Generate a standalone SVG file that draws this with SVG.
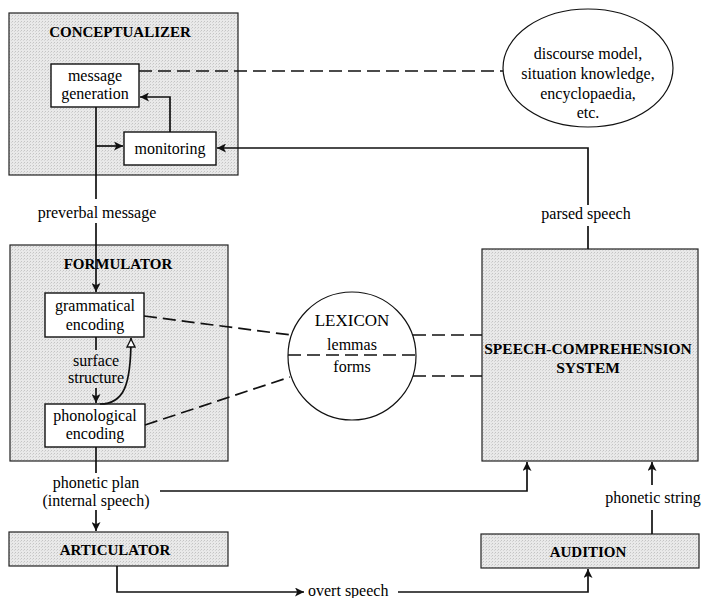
<svg xmlns="http://www.w3.org/2000/svg" width="706" height="598" viewBox="0 0 706 598" font-family="'Liberation Serif', 'DejaVu Serif', serif">
<style>
text{font-family:'Liberation Serif','DejaVu Serif',serif;fill:#000;font-size:16px}
.b{font-weight:bold;font-size:15px}
.c{text-anchor:middle}
.outer{fill:url(#stip);stroke:#222;stroke-width:1.2}
.inner{fill:#fff;stroke:#111;stroke-width:1.4}
.ln{fill:none;stroke:#111;stroke-width:1.7}
.dash{fill:none;stroke:#111;stroke-width:1.7;stroke-dasharray:13 6}
.arr{marker-end:url(#ah)}
</style>
<defs>
<pattern id="stip" width="3" height="3" patternUnits="userSpaceOnUse">
<rect width="3" height="3" fill="#e9e9e9"/>
<rect x="0" y="0" width="1" height="1" fill="#c4c4c4"/>
<rect x="2" y="1" width="1" height="1" fill="#d4d4d4"/>
</pattern>
<marker id="ah" viewBox="0 0 10 10" refX="10" refY="5" markerWidth="9" markerHeight="9" markerUnits="userSpaceOnUse" orient="auto">
<path d="M0,0 L10,5 L0,10 L2.5,5 Z" fill="#111"/>
</marker>
<marker id="ahh" viewBox="0 0 10 10" refX="10" refY="5" markerWidth="10" markerHeight="10" markerUnits="userSpaceOnUse" orient="auto">
<path d="M1,1 L9,5 L1,9 Z" fill="#fff" stroke="#111" stroke-width="1.3"/>
</marker>
</defs>
<rect width="706" height="598" fill="#fff"/>

<g id="conceptualizer">
<rect class="outer" x="9" y="13" width="229" height="162"/>
<text class="b c" x="120" y="37">CONCEPTUALIZER</text>
</g>
<g id="message-generation">
<rect class="inner" x="51" y="64" width="88" height="43"/>
<text class="c" x="95" y="81">message</text>
<text class="c" x="95" y="99">generation</text>
</g>
<g id="monitoring">
<rect class="inner" x="124" y="132" width="92" height="33"/>
<text class="c" x="170" y="154">monitoring</text>
</g>
<g id="knowledge">
<ellipse cx="588" cy="68" rx="85" ry="59" fill="#fff" stroke="#111" stroke-width="1.2"/>
<text class="c" x="588" y="59">discourse model,</text>
<text class="c" x="588" y="79">situation knowledge,</text>
<text class="c" x="588" y="99">encyclopaedia,</text>
<text class="c" x="588" y="118">etc.</text>
</g>

<g id="formulator">
<rect class="outer" x="10" y="245" width="218" height="216"/>
<text class="b c" x="118" y="269">FORMULATOR</text>
</g>
<g id="grammatical-encoding">
<rect class="inner" x="45" y="293" width="99" height="44"/>
<text class="c" x="95" y="311">grammatical</text>
<text class="c" x="95" y="330">encoding</text>
</g>
<g id="phonological-encoding">
<rect class="inner" x="45" y="404" width="100" height="43"/>
<text class="c" x="95" y="421">phonological</text>
<text class="c" x="95" y="439">encoding</text>
</g>
<g id="lexicon">
<circle cx="352" cy="356" r="64" fill="#fff" stroke="#111" stroke-width="1.2"/>
<line class="dash" x1="288" y1="355" x2="416" y2="355"/>
<text class="c" x="352" y="326" style="font-size:17px">LEXICON</text>
<text class="c" x="352" y="350">lemmas</text>
<text class="c" x="352" y="372">forms</text>
</g>
<g id="speech-comprehension">
<rect class="outer" x="482" y="249" width="216" height="212"/>
<text class="b c" x="588" y="354" style="font-size:15.5px">SPEECH-COMPREHENSION</text>
<text class="b c" x="588" y="373" style="font-size:15.5px">SYSTEM</text>
</g>
<g id="articulator">
<rect class="outer" x="9" y="532" width="219" height="34"/>
<text class="b c" x="115" y="555">ARTICULATOR</text>
</g>
<g id="audition">
<rect class="outer" x="481" y="534" width="218" height="34"/>
<text class="b c" x="588" y="557">AUDITION</text>
</g>

<g id="connectors">
<line class="dash" x1="139" y1="71" x2="503" y2="71"/>
<polyline class="ln arr" points="170,132 170,97 140,97"/>
<line class="ln" x1="96" y1="107" x2="96" y2="199"/>
<line class="ln arr" x1="96" y1="146" x2="123" y2="146"/>
<polyline class="ln arr" points="588,205 588,148 217,148"/>
<line class="ln" x1="588" y1="226" x2="588" y2="249"/>
<line class="ln arr" x1="96" y1="223" x2="96" y2="292"/>
<line class="ln" x1="96" y1="337" x2="96" y2="350"/>
<line class="ln arr" x1="96" y1="388" x2="96" y2="403"/>
<path class="ln" d="M100,404 C124,404 131,385 131,338" marker-end="url(#ahh)"/>
<line class="dash" x1="144" y1="316" x2="291" y2="335"/>
<line class="dash" x1="145" y1="425" x2="290" y2="377"/>
<line class="dash" x1="413" y1="335" x2="482" y2="335"/>
<line class="dash" x1="413" y1="376" x2="482" y2="376"/>
<line class="ln" x1="96" y1="447" x2="96" y2="473"/>
<line class="ln arr" x1="96" y1="510" x2="96" y2="531"/>
<polyline class="ln arr" points="160,491 527,491 527,462"/>
<line class="ln" x1="652" y1="534" x2="652" y2="510"/>
<line class="ln arr" x1="652" y1="485" x2="652" y2="462"/>
<polyline class="ln arr" points="117,566 117,592 304,592"/>
<polyline class="ln arr" points="398,592 588,592 588,569"/>
</g>

<g id="labels">
<text class="c" x="97" y="218">preverbal message</text>
<text class="c" x="586" y="219">parsed speech</text>
<text class="c" x="96" y="366">surface</text>
<text class="c" x="96" y="383">structure</text>
<text class="c" x="96" y="488">phonetic plan</text>
<text class="c" x="96" y="506">(internal speech)</text>
<text class="c" x="653" y="503">phonetic string</text>
<text x="308" y="596">overt speech</text>
</g>
</svg>
